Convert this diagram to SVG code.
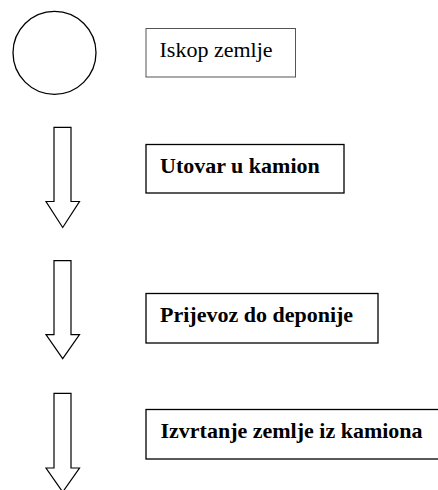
<svg xmlns="http://www.w3.org/2000/svg" width="438" height="490" viewBox="0 0 438 490">
<style>
.box{fill:#fff;stroke:#000;stroke-width:1.3}
.box1{fill:#fff;stroke:#555;stroke-width:1}
.arrow{fill:#fff;stroke:#000;stroke-width:1.2;stroke-linejoin:miter}
.t{font-family:"Liberation Serif","Times New Roman",serif;font-size:22px;fill:#000}
.b{font-weight:bold}
</style>
<rect width="438" height="490" fill="#fff"/>
<g id="start">
<circle cx="54.5" cy="52.8" r="41.5" fill="#fff" stroke="#000" stroke-width="1.3"/>
</g>
<g id="node1">
<rect class="box1" x="146" y="28.5" width="149.5" height="48.5"/>
<text class="t" x="159.5" y="56.7">Iskop zemlje</text>
</g>
<g id="node2">
<rect class="box" x="146" y="144.5" width="198" height="48.5"/>
<text class="t b" x="160" y="172.7">Utovar u kamion</text>
</g>
<g id="node3">
<rect class="box" x="146" y="293.5" width="232" height="49.5"/>
<text class="t b" x="160" y="321.7">Prijevoz do deponije</text>
</g>
<g id="node4">
<rect class="box" x="146" y="409.5" width="296" height="49.5"/>
<text class="t b" x="160.5" y="437.7">Izvrtanje zemlje iz kamiona</text>
</g>
<g id="connectors">
<path class="arrow" d="M54,127.3 H71 V201.5 H79.5 L62.7,227.5 L46,201.5 H54 Z"/>
<path class="arrow" d="M54,260.7 H71 V334.7 H79.5 L62.7,358.7 L46,334.7 H54 Z"/>
<path class="arrow" d="M54,393.3 H71 V468 H79.5 L62.7,492 L46,468 H54 Z"/>
</g>
</svg>
